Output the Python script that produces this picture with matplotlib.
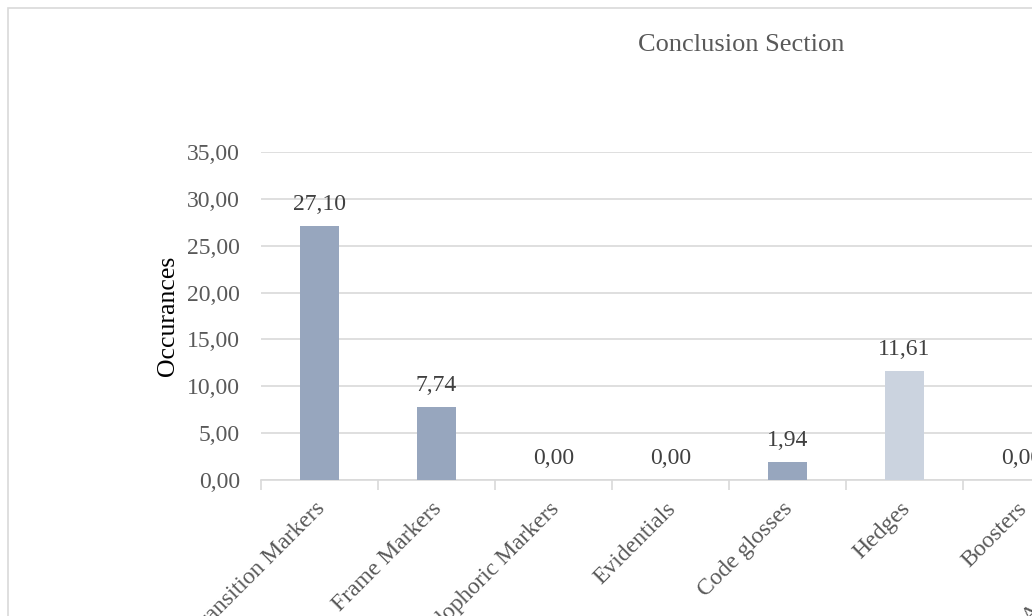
import numpy as np
import matplotlib.pyplot as plt
import matplotlib.transforms as mtransforms
from matplotlib.patches import Rectangle

plt.rcParams['font.family'] = ['Liberation Serif', 'DejaVu Serif']

categories = ['Transition Markers', 'Frame Markers', 'Endophoric Markers', 'Evidentials',
              'Code glosses', 'Hedges', 'Boosters', 'Attitude Markers']
values = [27.10, 7.74, 0.00, 0.00, 1.94, 11.61, 0.00]
colors = ['#97a6be', '#97a6be', '#97a6be', '#97a6be', '#97a6be', '#cbd3df', '#cbd3df']
yticks = [0, 5, 10, 15, 20, 25, 30, 35]

W, H = 1032, 616
fig = plt.figure(figsize=(W / 100, H / 100), dpi=100)
txt = '#595959'

# chart frame (continues past the right and bottom edge)
fig.patches.append(Rectangle((8 / W, -0.1), 1.2, 1 - 8 / H + 0.1, transform=fig.transFigure,
                             fill=False, edgecolor='#d9d9d9', linewidth=1.2))

# axes wider than the figure: the chart is cut off on the right
ax = fig.add_axes([261 / W, 1 - 480 / H, 1170 / W, 328 / H])
x = np.arange(len(values))
ax.bar(x, values, width=0.325, color=colors, zorder=3)
for xi, v in zip(x, values):
    ax.annotate(f'{v:.2f}'.replace('.', ','), (xi, v), xytext=(0, 8), textcoords='offset points',
                ha='center', va='bottom', fontsize=17, color='#404040')

ax.set_xlim(-0.5, 9.5)
ax.set_ylim(0, 35)
ax.set_yticks(yticks)
ax.set_yticklabels([f'{t:.2f}'.replace('.', ',') for t in yticks], fontsize=17, color=txt)
ax.tick_params(axis='y', length=0, pad=15)
ax.yaxis.grid(True, color='#d9d9d9', linewidth=1.2, zorder=0)
ax.set_ylabel('Occurances', fontsize=18.5, color='#000000', labelpad=6)

ax.set_xticks(np.arange(len(categories)))
ax.set_xticklabels(categories, rotation=45, ha='right', rotation_mode='anchor', fontsize=17, color=txt)
ax.tick_params(axis='x', which='major', length=0, pad=13)
shift = mtransforms.ScaledTranslation(-5 / 100, 0, fig.dpi_scale_trans)
for lab in ax.get_xticklabels():
    lab.set_transform(lab.get_transform() + shift)
ax.set_xticks(np.arange(-0.5, 10, 1), minor=True)
ax.tick_params(axis='x', which='minor', length=7, width=1.2, color='#d9d9d9')

for s in ['top', 'right', 'left']:
    ax.spines[s].set_visible(False)
ax.spines['bottom'].set_color('#d9d9d9')
ax.spines['bottom'].set_linewidth(1.2)

fig.text(741 / W, 1 - 45 / H, 'Conclusion Section', ha='center', va='center', fontsize=19, color=txt)

fig.savefig('out.png', dpi=100)
